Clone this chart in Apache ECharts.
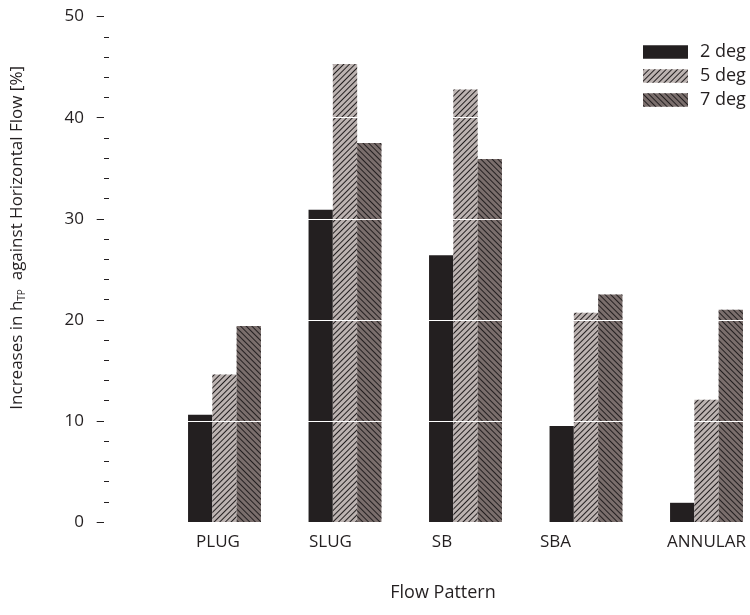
<!DOCTYPE html>
<html>
<head>
<meta charset="utf-8">
<script src="https://cdn.jsdelivr.net/npm/echarts@6/dist/echarts.min.js"></script>
<style>html,body{margin:0;padding:0;background:#fff}#c{width:750px;height:615px}</style>
</head>
<body>
<div id="c"></div>
<script>
var categories = ['PLUG', 'SLUG', 'SB', 'SBA', 'ANNULAR'];
var seriesNames = ['2 deg', '5 deg', '7 deg'];
var deg2 = [10.6, 30.9, 26.4, 9.5, 1.9];
var deg5 = [14.6, 45.3, 42.8, 20.7, 12.1];
var deg7 = [19.4, 37.5, 35.9, 22.5, 21.0];
var yTicks = [0, 10, 20, 30, 40, 50];

var FONT = 'Open Sans';
var chart = echarts.init(document.getElementById('c'), null, {renderer: 'canvas'});

function decal(rot) {
  return {symbol: 'rect', symbolSize: 1, color: '#231f20', dashArrayX: [1, 0], dashArrayY: [1, 2.4], rotation: rot};
}
var colors = ['#231f20', '#bcb3b1', '#7a6e6c'];
var decals = [null, decal(-Math.PI / 4), decal(Math.PI / 4)];
var datas = [deg2, deg5, deg7];
// horizontal shift (px, leftwards) of each category label, as in the reference
var labelShift = [13, 29, 47, 61, 0];
var rich = {};
labelShift.forEach(function (s, i) {
  rich['c' + i] = {fontFamily: FONT, fontSize: 17, color: '#231f20', padding: [0, s, 0, 0]};
});

var yBase = {
  type: 'value', min: yTicks[0], max: yTicks[yTicks.length - 1], interval: 10,
  position: 'left', offset: 60.25, z: 3
};

var option = {
  animation: false,
  backgroundColor: '#fff',
  grid: {left: 164.25, top: 16.6, width: 602.5, height: 505.4, outerBoundsMode: 'none', containLabel: false},
  legend: {
    orient: 'vertical', left: 638, top: 38, itemWidth: 45, itemHeight: 13.5, itemGap: 6,
    icon: 'rect', data: seriesNames,
    textStyle: {fontFamily: FONT, fontSize: 18, color: '#231f20', padding: [0, 0, 0, 7]}
  },
  xAxis: {
    type: 'category', data: categories,
    axisLine: {show: false}, axisTick: {show: false},
    axisLabel: {
      interval: 0, hideOverlap: false,
      fontFamily: FONT, fontSize: 17, color: '#231f20', margin: 12,
      formatter: function (v, i) { return '{c' + i + '|' + v + '}'; },
      rich: rich
    }
  },
  yAxis: [
    Object.assign({}, yBase, {
      axisLine: {show: false},
      axisTick: {show: true, length: 7.3, lineStyle: {color: '#231f20', width: 1}},
      axisLabel: {fontFamily: FONT, fontSize: 17, color: '#231f20', margin: 20},
      splitLine: {show: true, lineStyle: {color: '#ffffff', width: 1}}
    }),
    Object.assign({}, yBase, {
      axisLine: {show: false},
      axisTick: {show: false, inside: true},
      axisLabel: {show: false},
      splitLine: {show: false},
      minorTick: {show: true, splitNumber: 5, length: 5, lineStyle: {color: '#231f20', width: 1}}
    })
  ],
  graphic: [
    {
      type: 'text', left: 9, top: 66, rotation: Math.PI / 2,
      style: {
        text: 'Increases in h{s|TP}  against Horizontal Flow [%]',
        fontFamily: FONT, fontSize: 17, fill: '#231f20',
        rich: {s: {fontFamily: FONT, fontSize: 10, fill: '#231f20', verticalAlign: 'bottom', padding: [10, 0, 0, 0]}}
      }
    },
    {
      type: 'text', x: 443, y: 593,
      style: {text: 'Flow Pattern', fontFamily: FONT, fontSize: 18, fill: '#231f20', align: 'center', verticalAlign: 'middle'}
    }
  ],
  series: seriesNames.map(function (n, i) {
    var st = {color: colors[i]};
    if (decals[i]) st.decal = decals[i];
    return {
      name: n, type: 'bar', data: datas[i], barWidth: 24.3, barGap: '0%', barCategoryGap: '0%',
      itemStyle: st, yAxisIndex: 0
    };
  })
};
chart.setOption(option);
</script>
</body>
</html>
